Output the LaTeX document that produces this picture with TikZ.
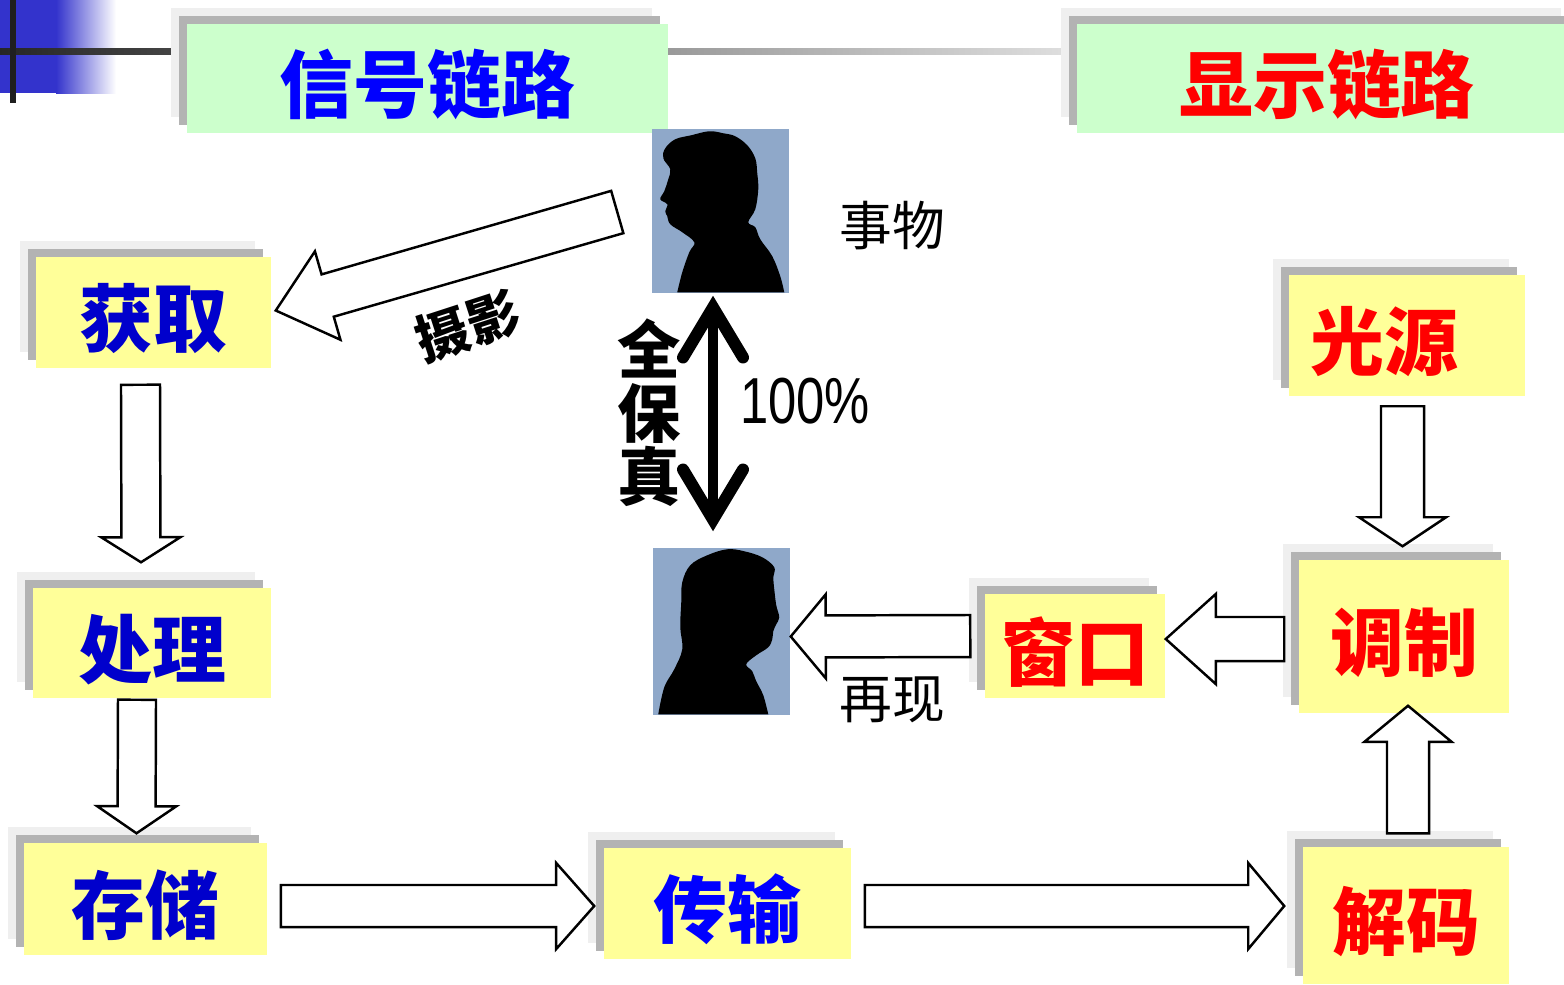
\documentclass[tikz,border=0pt]{standalone}
\usepackage{fontspec}
\usepackage{graphicx}
\newfontfamily\hei{Noto Sans CJK SC}
\setsansfont{Liberation Sans}
\definecolor{lianluYellow}{HTML}{FFFF99}
\definecolor{lianluGreen}{HTML}{CCFFCC}
\definecolor{lianluShadowLight}{HTML}{EFEFEF}
\definecolor{lianluShadowDark}{HTML}{B3B3B3}
\definecolor{lianluPhoto}{HTML}{8FA8C9}
\definecolor{lianluDeco}{HTML}{3333CC}
\definecolor{lianluBlue}{HTML}{0000FF}
\definecolor{lianluDeepBlue}{HTML}{0000CC}
\definecolor{lianluRed}{HTML}{FF0000}
\usetikzlibrary{
	arrows.meta,
	calc,
	shadows
}
\tikzset{
	kuang/.style={
		fill=lianluYellow,
		general shadow={fill=lianluShadowLight, shadow xshift=-0.16cm, shadow yshift=0.16cm},
		general shadow={fill=lianluShadowDark, shadow xshift=-0.08cm, shadow yshift=0.08cm},
		inner sep=0pt,
		text height=19.5pt,
		text depth=0pt,
		font=\hei\bfseries\fontsize{21}{21}\selectfont
	},
	biaoti/.style={
		kuang,
		fill=lianluGreen,
		minimum height=1.09cm
	},
	zhaopian/.style={
		fill=lianluPhoto,
		inner sep=0pt,
		minimum width=1.37cm
	},
	jiantou/.style={
		draw=black,
		fill=white,
		line width=0.7pt,
		line join=miter
	},
	baozhen/.style={
		line width=0.1cm,
		{Straight Barb[length=0.5cm, width=0.6cm, line width=0.12cm, line cap=round, line join=miter]}-{Straight Barb[length=0.5cm, width=0.6cm, line width=0.12cm, line cap=round, line join=miter]}
	},
	shuoming/.style={
		font=\hei\fontsize{15}{15}\selectfont
	}
}
% hollow block arrow: tail, tip, half shaft, half head, head length
\newcommand{\kuaijiantou}[5]{
	\path #1 coordinate (kjt-a) #2 coordinate (kjt-b);
	\coordinate (kjt-c) at ($(kjt-b)!#5!(kjt-a)$);
	\draw[jiantou] ($(kjt-a)!#3!90:(kjt-b)$) -- ($(kjt-c)!#3!-90:(kjt-a)$)
		-- ($(kjt-c)!#4!-90:(kjt-a)$) -- (kjt-b) -- ($(kjt-c)!#4!90:(kjt-a)$)
		-- ($(kjt-c)!#3!90:(kjt-a)$) -- ($(kjt-a)!#3!-90:(kjt-b)$) -- cycle;
}

\begin{document}
\begin{tikzpicture}[x=0.01cm, y=-0.01cm]
	\useasboundingbox (0,0) rectangle (1564,984);

	% corner mark
	\fill[lianluDeco] (0,0) rectangle (56,93);
	\shade[left color=lianluDeco, right color=white] (56,0) rectangle (116,93);
	\shade[left color=black!85, right color=black!12] (0,48) rectangle (1080,54);
	\fill[black!88] (10,0) rectangle (16,103);

	% titles
	\node[biaoti, minimum width=4.81cm, text=lianluBlue] (xinhao) at (427.5,78.5) {信号链路};
	\node[biaoti, minimum width=5.00cm, text=lianluRed] (xianshi) at (1327,78.5) {显示链路};

	% signal chain
	\node[kuang, minimum width=2.35cm, minimum height=1.11cm, text=lianluDeepBlue] (huoqu) at (153.5,312.5) {获取};
	\node[kuang, minimum width=2.38cm, minimum height=1.10cm, text=lianluDeepBlue] (chuli) at (152,643) {处理};
	\node[kuang, minimum width=2.43cm, minimum height=1.12cm, text=lianluDeepBlue] (cunchu) at (145.5,899) {存储};
	\node[kuang, minimum width=2.47cm, minimum height=1.11cm, text=lianluBlue] (chuanshu) at (727.5,903.5) {传输};

	% display chain
	\node[kuang, minimum width=2.06cm, minimum height=1.37cm, text=lianluRed] (jiema) at (1406,915.5) {解码};
	\node[kuang, minimum width=2.10cm, minimum height=1.53cm, text=lianluRed] (tiaozhi) at (1404,636.5) {调制};
	\node[kuang, minimum width=2.36cm, minimum height=1.21cm, text=lianluRed] (guangyuan) at (1407,335.5) {光源\rule{0.45cm}{0pt}};
	\node[kuang, minimum width=1.80cm, minimum height=1.04cm, text=lianluRed] (chuangkou) at (1075,646) {窗口};

	% the object and its image
	\node[zhaopian, minimum height=1.64cm] (shiwu) at (720.5,211) {};
	\node[zhaopian, minimum height=1.67cm] (zaixian) at (721.5,631.5) {};
	\begin{scope}[shift={(shiwu.north west)}]
		\clip (0,0) rectangle (137,164);
		\fill[black] (26,164) -- plot[smooth, tension=0.6] coordinates {
			(26,164) (31,144) (38,124) (43,114) (31,104) (19,96) (16,88) (14,83)
			(16,76) (9,71) (13,63) (17,51) (19,41) (12,30) (14,20) (24,11) (40,7)
			(58,3) (72,5) (84,8) (96,17) (104,30) (106,45) (107,61) (104,81) (97,94)
			(104,99) (109,111) (121,128) (129,148) (133,164)} -- cycle;
	\end{scope}
	\begin{scope}[shift={(zaixian.north west)}]
		\clip (0,0) rectangle (137,167);
		\fill[black] (6,167) -- plot[smooth, tension=0.6] coordinates {
			(6,167) (12,140) (22,122) (30,102) (28,80) (29,55) (30,35) (38,18)
			(55,8) (75,2) (92,4) (110,10) (122,20) (121,30) (122,42) (124,58)
			(127,70) (124,77) (121,84) (120,92) (116,100) (104,108) (94,117)
			(100,124) (104,134) (111,148) (116,167)} -- cycle;
	\end{scope}

	% flow
	\kuaijiantou{($(shiwu.west)+(-34,1)$)}{($(huoqu.east)+(4,-2)$)}{0.22cm}{0.46cm}{0.54cm}
	\kuaijiantou{($(huoqu.south)+(-13,16)$)}{($(chuli.north)+(-11,-25)$)}{0.195cm}{0.395cm}{0.25cm}
	\kuaijiantou{($(chuli.south)+(-15,1)$)}{($(cunchu.north)+(-9,-9)$)}{0.19cm}{0.395cm}{0.27cm}
	\kuaijiantou{($(cunchu.east)+(13,7)$)}{($(chuanshu.west)+(-9,2.5)$)}{0.21cm}{0.43cm}{0.38cm}
	\kuaijiantou{($(chuanshu.east)+(13,2.5)$)}{($(jiema.west)+(-18,-9.5)$)}{0.21cm}{0.43cm}{0.36cm}
	\kuaijiantou{($(jiema.north)+(2,-13)$)}{($(tiaozhi.south)+(4,-8)$)}{0.21cm}{0.435cm}{0.36cm}
	\kuaijiantou{($(guangyuan.south)+(-4.5,9.5)$)}{($(tiaozhi.north)+(-1.5,-13)$)}{0.215cm}{0.435cm}{0.29cm}
	\kuaijiantou{($(tiaozhi.west)+(-14,2.5)$)}{($(chuangkou.east)+(0,-7)$)}{0.22cm}{0.45cm}{0.50cm}
	\kuaijiantou{($(chuangkou.west)+(-14,-10)$)}{($(zaixian.east)+(0,5)$)}{0.21cm}{0.42cm}{0.35cm}

	\draw[baozhen] ($(shiwu.south)+(-7.5,2)$) -- ($(zaixian.north)+(-8.5,-16)$);

	% labels
	\node[shuoming] (shiwuzi) at (892,226) {事物};
	\node[shuoming] (zaixianzi) at (892,700) {再现};
	\node[shuoming, font=\hei\bfseries\fontsize{15}{15}\selectfont, rotate=18] (sheying) at (468,326) {摄影};
	\node[align=center, inner sep=0pt, font=\hei\bfseries\fontsize{18}{18}\selectfont] (quanbaozhen) at (649,413) {全\\保\\真};
	\node[inner sep=0pt, font=\sffamily\fontsize{18.5}{18.5}\selectfont] (baifen) at (805,401) {\scalebox{0.78}[1]{100\%}};
\end{tikzpicture}
\end{document}
